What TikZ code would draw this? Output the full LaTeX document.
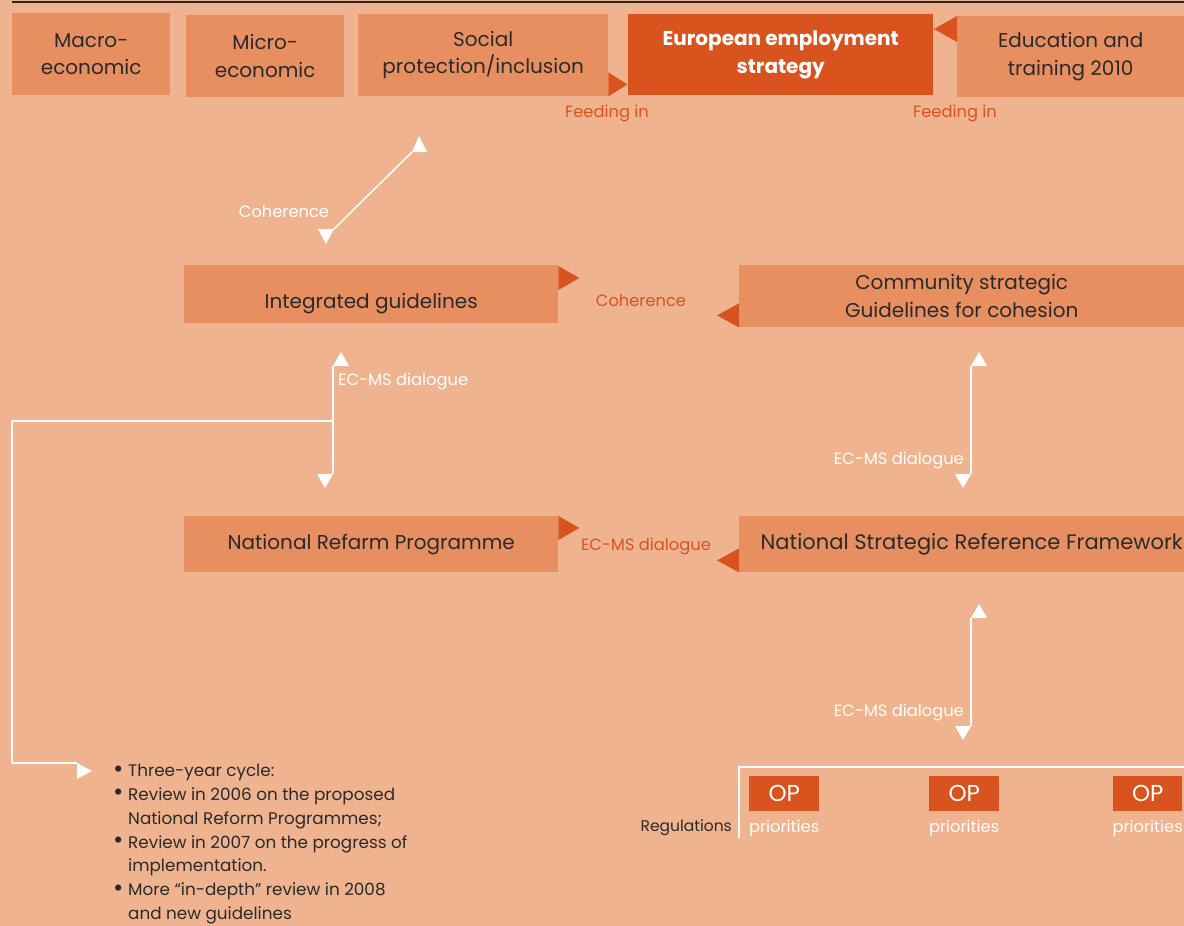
\documentclass[tikz,border=0pt]{standalone}
\usepackage{fontspec}
\setmainfont{Poppins}
\usetikzlibrary{calc}
\definecolor{bgpeach}{HTML}{F0B38F}
\definecolor{boxpeach}{HTML}{E88F62}
\definecolor{rust}{HTML}{D9531E}
\definecolor{ink}{HTML}{2A2A2A}
\newcommand{\dotmark}{\makebox[15pt][l]{\raisebox{-0.5pt}{\scalebox{1.5}{•}}}}
\newcommand{\nodot}{\makebox[15pt][l]{}}
\begin{document}
\begin{tikzpicture}[x=1pt,y=-1pt,
  box/.style={fill=boxpeach, anchor=north west, inner sep=0pt, align=center,
    text=ink, font=\fontsize{20}{27.5}\selectfont},
  keybox/.style={box, fill=rust, text=white, font=\bfseries\fontsize{20}{27.5}\selectfont},
  opbox/.style={fill=rust, anchor=north west, inner sep=0pt, minimum width=70, minimum height=35,
    text=white, font=\fontsize{23}{26}\selectfont},
  rustlbl/.style={text=rust, inner sep=0pt, font=\fontsize{16.3}{19}\selectfont},
  whitelbl/.style={text=white, inner sep=0pt, font=\fontsize{16.3}{19}\selectfont},
  link/.style={draw=white, line width=1.5pt},
  tip/.style={fill=white},
  pointer/.style={fill=rust}]
\useasboundingbox (0,0) rectangle (1184,926);
\fill[bgpeach] (0,0) rectangle (1184,926);
\draw[ink, line width=1.5pt] (12,2) -- (1184,2);

% top row of policy areas
\node[box, minimum width=158, minimum height=82] (macro) at (12,13) {Macro-\\economic};
\node[box, minimum width=158, minimum height=82] (micro) at (186,15) {Micro-\\economic};
\node[box, minimum width=250, minimum height=82] (social) at (358,14) {Social\\protection/inclusion};
\node[keybox, minimum width=305, minimum height=81] (ees) at (628,14) {European employment\\strategy};
\node[box, minimum width=227, minimum height=81] (edu) at (957,16) {Education and\\training 2010};
\fill[pointer] (social.south east) -- ++(0,-24) -- ++(19,12) -- cycle;
\fill[pointer] (edu.north west) -- ++(0,26) -- ++(-23,-13) -- cycle;
\node[rustlbl] (feed1) at (607,113) {Feeding in};
\node[rustlbl] (feed2) at (955,113) {Feeding in};

% guidelines level (label sits a little below the middle of its box)
\node[box, minimum width=374, minimum height=58, text height=28pt, text depth=0pt] (ig) at (184,265) {Integrated guidelines};
\node[box, minimum width=445, minimum height=62] (csg) at (739,265) {Community strategic\\Guidelines for cohesion};
\fill[pointer] (ig.north east) ++(0,1) -- ++(0,24) -- ++(21,-12) -- cycle;
\fill[pointer] (csg.south west) -- ++(0,-24) -- ++(-22,12) -- cycle;
\node[rustlbl] (coh2) at (641,301) {Coherence};

% coherence link to the top row
\coordinate (cohlo) at (334,229);
\coordinate (cohhi) at (412,152);
\draw[link] (cohlo) -- (cohhi);
\fill[tip] (cohhi) -- ++(15,0) -- ++(-8,-16) -- cycle;
\fill[tip] (cohlo) -- ++(-16,0) -- ++(8,15) -- cycle;
\node[whitelbl] (coh1) at (284,212) {Coherence};

% national level
\node[box, minimum width=374, minimum height=56] (nrp) at (184,516) {National Refarm Programme};
\node[box, minimum width=445, minimum height=56, font=\fontsize{21}{25}\selectfont] (nsrf) at (739,516) {\hspace*{20pt}National Strategic Reference Framework};
\fill[pointer] (nrp.north east) -- ++(0,24) -- ++(21,-12) -- cycle;
\fill[pointer] (nsrf.south west) -- ++(0,-24) -- ++(-22,12) -- cycle;
\node[rustlbl] (dlg3) at (646,546) {EC-MS dialogue};

% EC-MS dialogue links
\coordinate (lhi) at (333,366);
\coordinate (llo) at (333,474);
\draw[link] (lhi) -- (llo);
\fill[tip] (lhi) -- ++(16,0) -- ++(-8,-14) -- cycle;
\fill[tip] (llo) -- ++(-16,0) -- ++(8,14) -- cycle;
\node[whitelbl, anchor=west] (dlg1) at (338,381) {EC-MS dialogue};

\coordinate (rhi) at (971,366);
\coordinate (rlo) at (971,474);
\draw[link] (rhi) -- (rlo);
\fill[tip] (rhi) -- ++(16,0) -- ++(-8,-14) -- cycle;
\fill[tip] (rlo) -- ++(-16,0) -- ++(8,14) -- cycle;
\node[whitelbl, anchor=east] (dlg2) at (964,460) {EC-MS dialogue};

\coordinate (bhi) at (971,618);
\coordinate (blo) at (971,726);
\draw[link] (bhi) -- (blo);
\fill[tip] (bhi) -- ++(16,0) -- ++(-8,-14) -- cycle;
\fill[tip] (blo) -- ++(-16,0) -- ++(8,14) -- cycle;
\node[whitelbl, anchor=east] (dlg4) at (964,712) {EC-MS dialogue};

% review cycle loop
\coordinate (loopa) at (333,421);
\coordinate (loopb) at (77,763);
\draw[link] (loopa) -- (12,421) -- (12,763) -- (loopb);
\fill[tip] (loopb) -- ++(0,16) -- ++(15,-8) -- cycle;
\node[anchor=north west, inner sep=0pt, align=left, text=ink,
  font=\fontsize{16.8}{23.8}\selectfont] (cycle) at (113,764)
  {\dotmark Three-year cycle:\\
   \dotmark Review in 2006 on the proposed\\
   \nodot National Reform Programmes;\\
   \dotmark Review in 2007 on the progress of\\
   \nodot implementation.\\
   \dotmark More “in-depth” review in 2008\\
   \nodot and new guidelines};

% operational programmes
\coordinate (regtop) at (739,767);
\draw[draw=white, line width=2pt] (739,838) -- (regtop) -- (1184,767);
\node[anchor=east, inner sep=0pt, text=ink, font=\fontsize{15.5}{18}\selectfont] (reg) at (732,828) {Regulations};
\node[opbox] (op1) at (749,776) {OP};
\node[opbox] (op2) at (929,776) {OP};
\node[opbox, minimum width=69] (op3) at (1113,776) {OP};
\foreach \o in {op1,op2,op3}
  \node[whitelbl, anchor=north] at ($(\o.south)+(0,8)$) {priorities};
\end{tikzpicture}
\end{document}
